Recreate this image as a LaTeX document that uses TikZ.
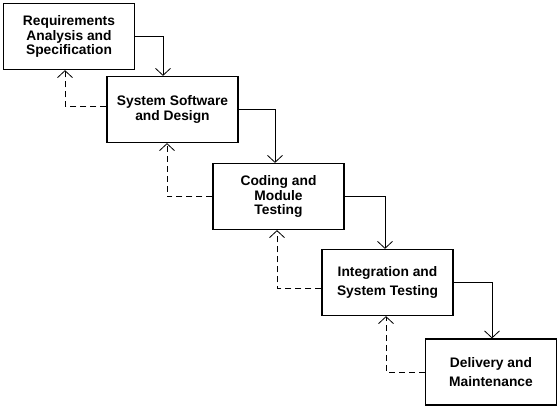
\documentclass[tikz,border=0pt]{standalone}
\usepackage{fontspec}
\setmainfont{Liberation Sans}
\usetikzlibrary{arrows.meta}

\begin{document}
\begin{tikzpicture}[x=1pt, y=-1pt,
    font=\fontsize{13.8}{14.8}\selectfont\bfseries,
    phase/.style={draw, line width=1.2pt, minimum width=131pt,
                  minimum height=66pt, inner sep=0pt, align=center},
    flow/.style={line width=0.8pt, -{Straight Barb[length=7pt,width=15pt]}},
    back/.style={flow, dashed, dash pattern=on 6pt off 4pt}]
    \useasboundingbox (0,0) rectangle (560,408);
    \node[phase] (req)  at (69,36.5)   {Requirements\\Analysis and\\Specification};
    \node[phase] (sys)  at (172.5,109.5) {System Software\\and Design};
    \node[phase] (code) at (278.5,196.5) {Coding and\\Module\\Testing};
    \node[phase] (integ) at (387.5,282.5) {Integration and\\[5pt]System Testing};
    \node[phase] (deliv) at (491,372)  {Delivery and\\[5pt]Maintenance};

    \draw[flow] (req.east) -| ([xshift=-9.5pt]sys.north);
    \draw[flow] (sys.east) -| ([xshift=-3.5pt]code.north);
    \draw[flow] (code.east) -| ([xshift=-2.5pt]integ.north);
    \draw[flow] (integ.east) -| ([xshift=1pt]deliv.north);

    \draw[back] ([yshift=3.5pt]sys.west) -| ([xshift=-4pt]req.south);
    \draw[back] (code.west) -| ([xshift=-5.5pt]sys.south);
    \draw[back] ([yshift=-5.5pt]integ.west) -| ([xshift=-1.5pt]code.south);
    \draw[back] (deliv.west) -| ([xshift=-1.5pt]integ.south);
  \end{tikzpicture}
\end{document}
